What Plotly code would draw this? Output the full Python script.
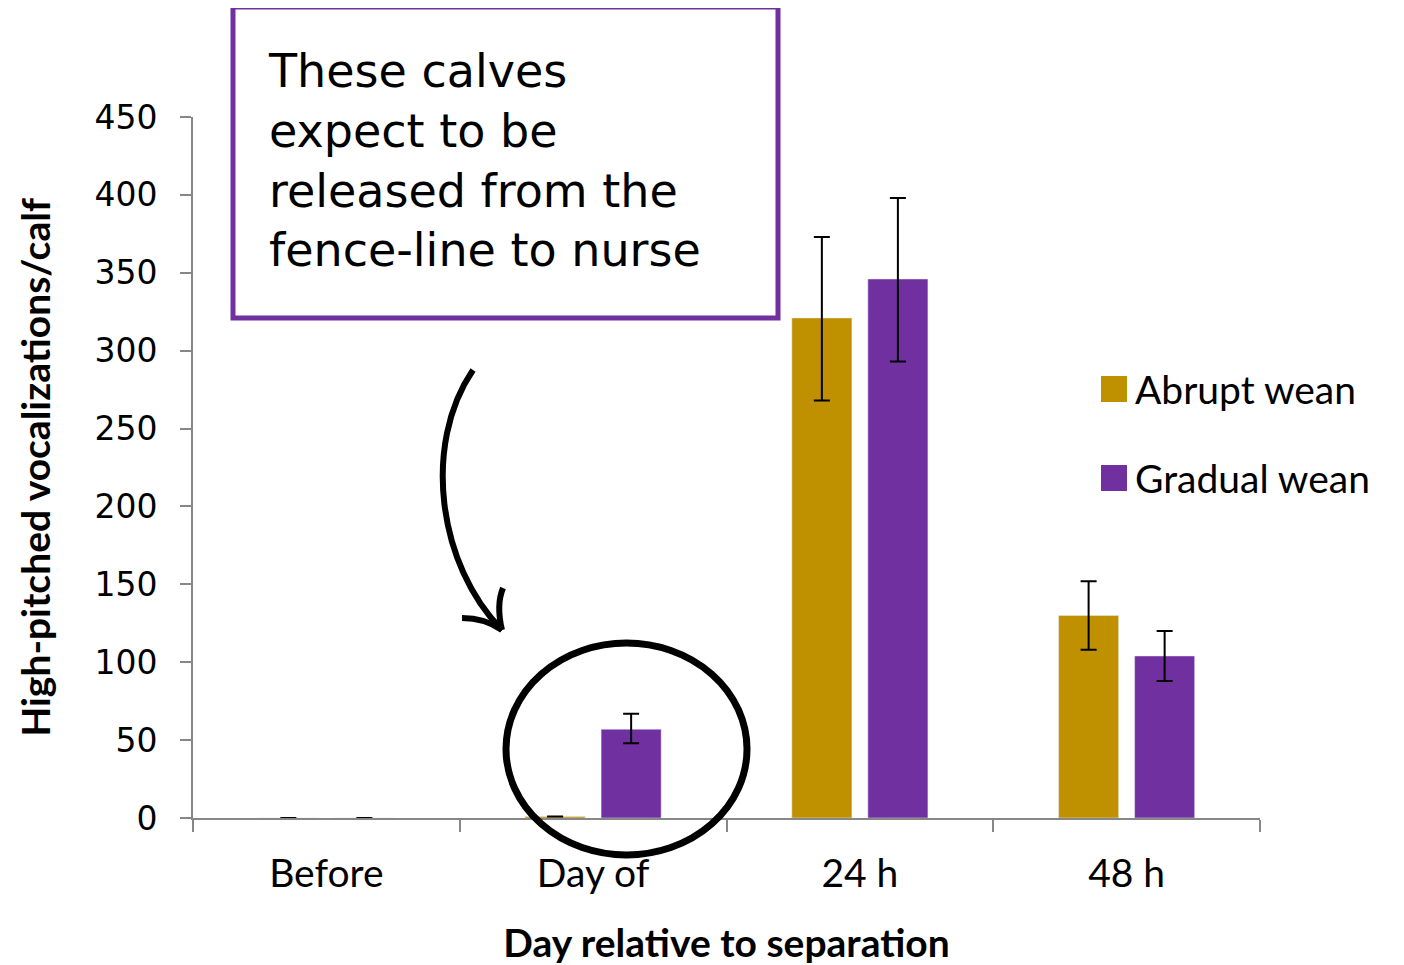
import plotly.graph_objects as go

categories = ["Before", "Day of", "24 h", "48 h"]
abrupt = [0, 1, 321, 130]
abrupt_err_plus = [0, 0, 52, 22]
abrupt_err_minus = [0, 0, 53, 22]
gradual = [0, 57, 346, 104]
gradual_err_plus = [0, 10, 52, 16]
gradual_err_minus = [0, 9, 53, 16]
y_ticks = [0, 50, 100, 150, 200, 250, 300, 350, 400, 450]
series_names = ["Abrupt wean", "Gradual wean"]
note_lines = ["These calves", "expect to be", "released from the", "fence-line to nurse"]

GOLD = "#BF9000"
PURPLE = "#7030A0"
OFF = 8  # page body margin
W, H = 1404 - OFF, 965 - OFF
X0, X1, Y0, Y1 = 193, 1260, 117, 818  # plot area in screen pixels
L, T = X0 - OFF, Y0 - OFF
R = W - (X1 - OFF)
B = H - (Y1 - OFF)
PW, PH = X1 - X0, Y1 - Y0


def px(x):
    return (x - X0) / PW


def py(y):
    return (Y1 - y) / PH


fig = go.Figure()
fig.add_trace(go.Bar(
    x=categories, y=abrupt, name=series_names[0], marker_color=GOLD,
    showlegend=False,
    error_y=dict(type="data", symmetric=False, array=abrupt_err_plus,
                 arrayminus=abrupt_err_minus, color="black", thickness=2, width=8),
))
fig.add_trace(go.Bar(
    x=categories, y=gradual, name=series_names[1], marker_color=PURPLE,
    showlegend=False,
    error_y=dict(type="data", symmetric=False, array=gradual_err_plus,
                 arrayminus=gradual_err_minus, color="black", thickness=2, width=8),
))

fig.update_layout(
    width=W, height=H, autosize=False,
    margin=dict(l=L, r=R, t=T, b=B),
    paper_bgcolor="white", plot_bgcolor="white",
    barmode="group", bargap=0.43, bargroupgap=0.21,
    font=dict(family="Lato", color="black"),
    showlegend=False,
)
fig.update_xaxes(
    type="category", showline=True, linecolor="#878787", linewidth=2,
    ticks="outside", tickson="boundaries", ticklen=12, tickwidth=2, tickcolor="#878787",
    tickfont=dict(size=39, family="Lato"), ticklabelstandoff=20,
    showgrid=False, zeroline=False, automargin=False,
    title=dict(text="<b>Day relative to separation</b>", font=dict(size=39, family="Lato"),
               standoff=37),
)
fig.update_yaxes(
    range=[0, 450], tickvals=y_ticks, showline=True, linecolor="#878787", linewidth=2,
    ticks="outside", ticklen=11, tickwidth=2, tickcolor="#878787",
    tickfont=dict(size=33, family="DejaVu Sans"), ticklabelstandoff=16,
    showgrid=False, zeroline=False, automargin=False,
    title=dict(text="<b>High-pitched vocalizations/calf</b>", font=dict(size=39, family="Lato"),
               standoff=32),
)

# manual legend
legend_y = [389, 478]
legend_colors = [GOLD, PURPLE]
for name, yc, col in zip(series_names, legend_y, legend_colors):
    fig.add_shape(type="rect", xref="paper", yref="paper",
                  x0=px(1101), x1=px(1127), y0=py(yc - 13), y1=py(yc + 13),
                  line=dict(width=0), fillcolor=col)
    fig.add_annotation(xref="paper", yref="paper", x=px(1133), y=py(yc),
                       xanchor="left", yanchor="middle", text=name, showarrow=False,
                       font=dict(size=39, family="Lato", color="black"))

# annotation box
fig.add_shape(type="rect", xref="paper", yref="paper",
              x0=px(233), x1=px(778), y0=py(7), y1=py(318),
              line=dict(color=PURPLE, width=5), fillcolor="white", layer="above")
fig.add_annotation(xref="paper", yref="paper", x=px(266), y=py(160),
                   xanchor="left", yanchor="middle", text="<br>".join(note_lines),
                   align="left", showarrow=False,
                   font=dict(size=46, family="DejaVu Sans", color="black"))

# curved arrow
fig.add_shape(type="path", xref="paper", yref="paper",
              path=f"M {px(473)},{py(370)} C {px(422)},{py(445)} {px(438)},{py(565)} {px(502)},{py(630)}",
              line=dict(color="black", width=6), layer="above")
fig.add_shape(type="path", xref="paper", yref="paper",
              path=f"M {px(462)},{py(618)} Q {px(485)},{py(618)} {px(502)},{py(630)}",
              line=dict(color="black", width=6), layer="above")
fig.add_shape(type="path", xref="paper", yref="paper",
              path=f"M {px(503)},{py(588)} Q {px(496)},{py(605)} {px(502)},{py(630)}",
              line=dict(color="black", width=6), layer="above")
# ellipse
fig.add_shape(type="circle", xref="paper", yref="paper",
              x0=px(506), x1=px(747), y0=py(643), y1=py(855),
              line=dict(color="black", width=7), layer="above")

fig.write_html("out.html")
